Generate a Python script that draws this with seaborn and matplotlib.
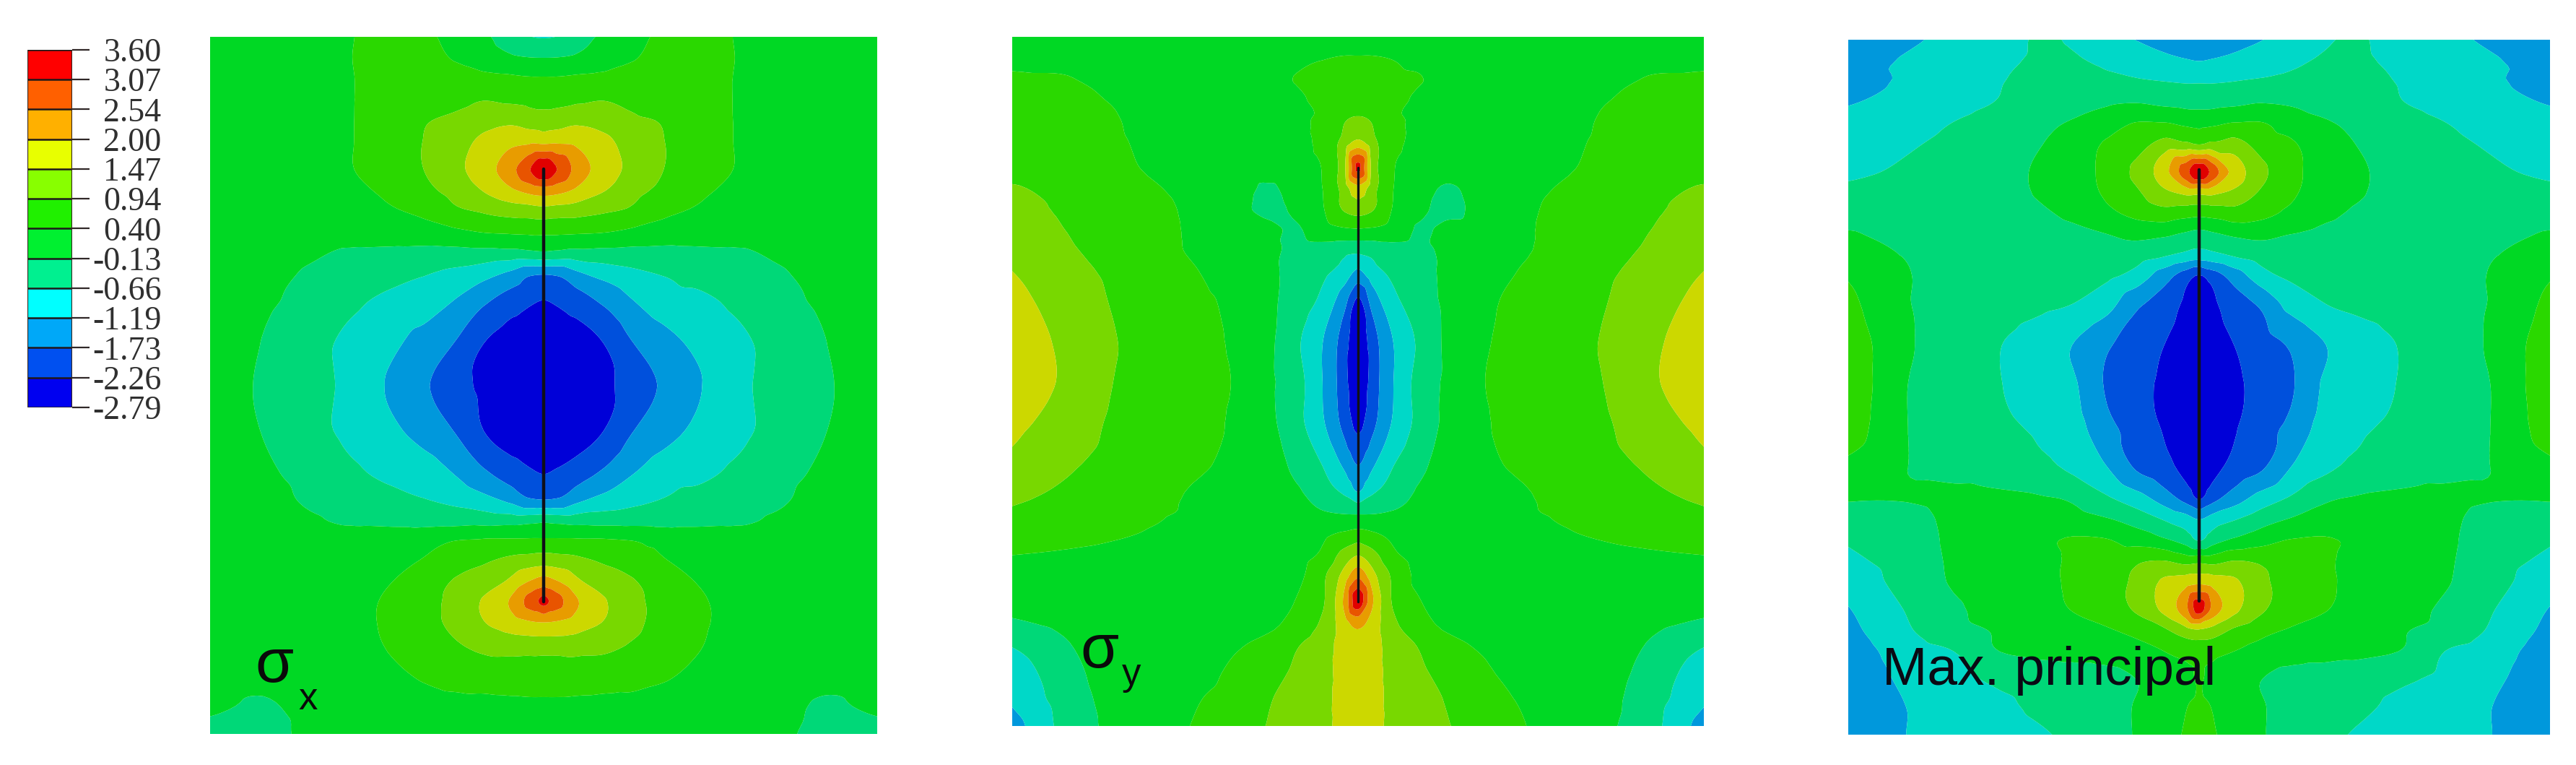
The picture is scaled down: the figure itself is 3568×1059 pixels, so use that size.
import numpy as np
import seaborn as sns
import matplotlib
matplotlib.use("Agg")
import matplotlib.pyplot as plt
import matplotlib.tri as mtri
from matplotlib.colors import ListedColormap, BoundaryNorm

sns.set_theme(style="white")
plt.rcParams["font.family"] = ["Liberation Sans", "DejaVu Sans"]

# contour levels as printed on the legend, bottom to top
levels = [-2.79, -2.26, -1.73, -1.19, -0.66, -0.13, 0.40, 0.94, 1.47, 2.00, 2.54, 3.07, 3.60]
level_labels = ["-2.79", "-2.26", "-1.73", "-1.19", "-0.66", "-0.13", "0.40", "0.94", "1.47", "2.00", "2.54", "3.07", "3.60"]
legend_colors = ["#0000f0", "#0050f0", "#00a8f8", "#00ffff", "#00f090", "#00f030",
                 "#20f000", "#88ff00", "#e8ff00", "#ffb000", "#ff6000", "#ff0000"]
panel_colors = ["#0000d8", "#0050dc", "#0098dc", "#00d8c8", "#00d878", "#00d824",
                "#2ad800", "#78d800", "#ccd800", "#e89c00", "#e85400", "#e00000"]

dist = [0, .02, .05, .09, .13, .18, .23, .29, .35, .42, .5]

# sigma x
sx_v = [0, .03, .06, .09, .12, .15, .19, .22, .25, .28, .31, .34, .38, .44, .50, .565, .625, .665, .695, .72,
        .75, .78, .81, .84, .88, .92, .96, 1]
sx = [
    [-.7, -.65, -.35, -.05, .2, .5, .55, .38, .2, .1, .1],
    [-.13, -.12, -.05, .1, .35, .55, .55, .39, .2, .1, .1],
    [.45, .45, .5, .55, .6, .6, .55, .38, .2, .1, .1],
    [.8, .8, .85, .92, .8, .65, .55, .38, .2, .1, .1],
    [1.15, 1.2, 1.35, 1.25, 1.05, .9, .6, .38, .2, .1, .1],
    [1.85, 1.9, 1.85, 1.6, 1.25, .95, .62, .38, .2, .1, .1],
    [3.5, 3.07, 2.35, 1.75, 1.35, .94, .62, .38, .2, .1, .1],
    [2.3, 2.2, 1.9, 1.5, 1.15, .8, .5, .3, .17, .1, .1],
    [1.25, 1.2, 1.15, 1.0, .85, .5, .35, .2, .12, .1, .1],
    [.5, .5, .47, .42, .3, .2, .15, .1, .08, .08, .1],
    [-.2, -.25, -.3, -.3, -.3, -.3, -.25, -.2, -.05, .1, .15],
    [-1.7, -1.65, -1.3, -1.0, -.8, -.63, -.48, -.35, -.2, .05, .15],
    [-2.28, -2.2, -2.0, -1.65, -1.25, -.9, -.8, -.55, -.3, -.05, .15],
    [-2.6, -2.55, -2.5, -2.26, -1.78, -1.4, -1.08, -.78, -.5, -.15, .15],
    [-2.75, -2.7, -2.55, -2.35, -2.1, -1.65, -1.25, -.78, -.5, -.2, .15],
    [-2.6, -2.55, -2.5, -2.26, -1.78, -1.4, -1.08, -.78, -.5, -.15, .15],
    [-2.28, -2.2, -2.0, -1.65, -1.25, -.9, -.8, -.55, -.3, -.05, .15],
    [-1.7, -1.65, -1.3, -1.0, -.8, -.63, -.48, -.35, -.2, .05, .15],
    [-.2, -.25, -.3, -.3, -.3, -.3, -.25, -.2, -.05, .1, .15],
    [.42, .42, .41, .4, .36, .22, .15, .12, .1, .1, .12],
    [1.2, 1.15, 1.05, .85, .65, .42, .25, .15, .1, .1, .1],
    [2.2, 2.0, 1.55, 1.2, 1.0, .62, .38, .2, .12, .1, .1],
    [3.2, 2.75, 2.05, 1.52, 1.12, .75, .47, .27, .12, .1, .1],
    [2.0, 1.95, 1.75, 1.45, 1.1, .75, .48, .27, .12, .1, .1],
    [1.05, 1.05, 1.05, 1.0, .85, .65, .42, .22, .12, .08, .1],
    [.65, .65, .65, .62, .6, .44, .28, .18, .1, -.02, .08],
    [.3, .3, .28, .25, .22, .18, .12, .08, .05, -.2, 0],
    [.1, .1, .1, .1, .1, .1, .1, .1, .05, -.4, -.4],
]

# sigma y
sy_v = [0, .03, .06, .09, .12, .15, .19, .22, .25, .28, .31, .34, .38, .44, .50, .56, .62, .66, .69, .72,
        .75, .78, .82, .85, .88, .92, .96, 1]
sy = [
    [.15, .15, .15, .15, .15, .15, .15, .15, .15, .15, .2],
    [.42, .42, .38, .25, .15, .15, .15, .15, .2, .25, .3],
    [.55, .55, .5, .42, .2, .15, .15, .15, .2, .42, .45],
    [.6, .6, .55, .3, .15, .15, .15, .2, .36, .5, .55],
    [1.0, .9, .5, .33, .15, .15, .15, .22, .42, .55, .6],
    [1.5, 1.1, .55, .3, .15, .15, .18, .28, .45, .6, .65],
    [3.2, 1.35, .45, .2, .12, .15, .22, .33, .5, .68, .75],
    [1.8, 1.2, .42, .1, -.2, .15, .28, .42, .6, .8, .98],
    [1.2, 1.0, .38, 0, -.3, .1, .3, .48, .65, .88, 1.05],
    [.35, .32, .2, -.2, .05, .15, .32, .5, .7, .93, 1.12],
    [-.55, -.5, -.35, -.25, 0, .2, .33, .52, .75, 1.0, 1.3],
    [-1.25, -.85, -.55, -.3, -.02, .2, .4, .6, .82, 1.12, 1.47],
    [-2.3, -1.5, -.8, -.35, -.02, .3, .48, .68, .88, 1.25, 1.6],
    [-2.65, -2.0, -1.2, -.55, -.02, .34, .52, .75, .95, 1.35, 1.75],
    [-2.75, -2.05, -1.22, -.45, -.03, .38, .55, .78, .92, 1.38, 1.8],
    [-2.4, -1.9, -1.15, -.48, 0, .35, .5, .72, .85, 1.25, 1.6],
    [-1.75, -1.3, -.7, -.25, .1, .32, .45, .62, .75, 1.02, 1.35],
    [-1.2, -.75, -.45, -.05, .15, .28, .35, .5, .6, .85, 1.08],
    [-.2, -.18, -.1, .1, .15, .2, .33, .45, .55, .72, .88],
    [.55, .45, .28, .18, .15, .15, .2, .35, .46, .58, .7],
    [1.4, 1.1, .5, .2, .15, .15, .15, .22, .28, .35, .42],
    [2.35, 1.65, .85, .25, .15, .15, .15, .15, .15, .15, .15],
    [3.4, 2.1, .9, .42, .15, .15, .15, .15, .12, .1, .05],
    [2.2, 1.8, 1.05, .6, .25, .15, .15, .15, .12, 0, -.2],
    [1.75, 1.7, 1.2, .88, .55, .32, .15, .15, .1, -.15, -.6],
    [1.75, 1.72, 1.25, 1.0, .78, .48, .25, .15, .1, -.3, -.95],
    [1.75, 1.7, 1.3, 1.1, .9, .58, .38, .18, .05, -.4, -1.1],
    [1.75, 1.7, 1.3, 1.1, .96, .7, .46, .2, 0, -.45, -1.4],
]

# max principal
sp_v = sy_v
sp = [
    [-1.6, -1.55, -1.4, -1.2, -.95, -.7, -.62, -.9, -1.05, -1.3, -1.6],
    [-1.2, -1.15, -1.05, -.9, -.75, -.62, -.6, -.8, -1.0, -1.15, -1.45],
    [-.7, -.7, -.66, -.6, -.55, -.5, -.55, -.7, -.95, -1.15, -1.3],
    [-.3, -.3, -.25, -.15, -.2, -.35, -.45, -.65, -.85, -1.05, -1.22],
    [.25, .3, .42, .42, .15, -.08, -.25, -.45, -.65, -.85, -1.0],
    [.9, 1.05, 1.15, .7, .48, .08, -.16, -.35, -.55, -.72, -.9],
    [3.5, 2.85, 1.8, 1.05, .58, .12, -.08, -.3, -.45, -.6, -.75],
    [1.6, 1.6, 1.35, .85, .5, .1, -.1, -.3, -.42, -.52, -.55],
    [.55, .6, .72, .55, .28, -.03, -.2, -.3, -.4, -.42, -.4],
    [-.3, -.2, -.05, 0, -.13, -.25, -.3, -.35, -.38, -.3, -.08],
    [-.9, -.8, -.6, -.42, -.38, -.38, -.4, -.4, -.35, -.15, .02],
    [-2.3, -2.0, -1.5, -.85, -.58, -.48, -.42, -.42, -.35, -.08, .35],
    [-2.6, -2.35, -1.95, -1.62, -1.0, -.66, -.55, -.45, -.35, -.08, .55],
    [-2.7, -2.5, -2.26, -1.95, -1.68, -1.2, -.88, -.62, -.3, -.05, .8],
    [-2.75, -2.55, -2.35, -2.1, -1.8, -1.1, -.85, -.62, -.38, -.1, .85],
    [-2.7, -2.5, -2.3, -1.9, -1.6, -.95, -.72, -.55, -.35, -.1, .7],
    [-2.6, -2.38, -2.05, -1.73, -1.15, -.72, -.5, -.32, -.25, -.12, .2],
    [-2.3, -1.9, -1.45, -.95, -.6, -.2, -.08, -.03, 0, -.1, -.08],
    [-1.2, -.95, -.7, -.35, -.1, .05, .1, .1, 0, -.35, -.45],
    [-.7, -.35, -.05, .2, .42, .45, .3, .15, -.02, -.45, -.62],
    [.8, .75, .95, .85, .6, .45, .28, .12, -.05, -.48, -.75],
    [1.85, 1.75, 1.55, 1.05, .72, .48, .25, .1, -.08, -.5, -.95],
    [3.3, 2.35, 1.6, 1.0, .68, .42, .2, .05, -.22, -.65, -1.22],
    [1.4, 1.25, .85, .55, .35, .18, .08, -.1, -.3, -.75, -1.35],
    [.6, .55, .4, .2, .1, .05, -.02, -.15, -.66, -.95, -1.5],
    [.42, .3, .05, -.13, -.3, -.4, -.45, -.58, -.8, -1.1, -1.55],
    [.45, .38, .1, -.1, -.3, -.45, -.58, -.78, -.95, -1.2, -1.6],
    [.6, .45, .15, -.1, -.3, -.55, -.72, -.85, -1.0, -1.2, -1.65],
]

# crack ends in panel fractions
sx_crack = [.19, .81]
sy_crack = [.19, .82]
sp_crack = [.187, .808]

W, H = 3568, 1059
fig = plt.figure(figsize=(W / 100, H / 100), dpi=100, facecolor="white")


def axes_px(x0, y0, x1, y1):
    return fig.add_axes([x0 / W, 1 - y1 / H, (x1 - x0) / W, (y1 - y0) / H])


def draw_field(box, v, rows, crack, lw):
    ax = axes_px(*box)
    half = np.array(rows)
    z = np.hstack([half[:, :0:-1], half])
    d = np.array(dist)
    x = np.concatenate([0.5 - d[:0:-1], 0.5 + d])
    xx, yy = np.meshgrid(x, v)
    # smooth band edges: matplotlib's own cubic refinement of the mesh
    tri = mtri.Triangulation(xx.ravel(), yy.ravel())
    interp = mtri.CubicTriInterpolator(tri, z.ravel(), kind="geom")
    tri2, z2 = mtri.UniformTriRefiner(tri).refine_field(z.ravel(), triinterpolator=interp, subdiv=3)
    ax.tricontourf(tri2, z2, levels=levels, colors=panel_colors, extend="both", antialiased=True)
    sns.lineplot(x=[0.5, 0.5], y=crack, color="#101018", lw=lw, ax=ax, estimator=None, sort=False)
    ax.set_xlim(0, 1)
    ax.set_ylim(1, 0)
    ax.axis("off")
    return ax


ax1 = draw_field((291, 51, 1215, 1016), sx_v, sx, sx_crack, 3.2)
ax2 = draw_field((1402, 51, 2360, 1005), sy_v, sy, sy_crack, 2.4)
ax3 = draw_field((2560, 55, 3532, 1017), sp_v, sp, sp_crack, 3.2)

ax1.text(0.068, 0.075, "σ", fontsize=62, color="#0a0a0a", ha="left", va="baseline", transform=ax1.transAxes)
ax1.text(0.132, 0.035, "x", fontsize=38, color="#0a0a0a", ha="left", va="baseline", transform=ax1.transAxes)
ax2.text(0.098, 0.085, "σ", fontsize=62, color="#0a0a0a", ha="left", va="baseline", transform=ax2.transAxes)
ax2.text(0.158, 0.06, "y", fontsize=38, color="#0a0a0a", ha="left", va="baseline", transform=ax2.transAxes)
ax3.text(0.048, 0.072, "Max. principal", fontsize=54, color="#0a0a14", ha="left", va="baseline", transform=ax3.transAxes)

# legend: one column heatmap, top band first
leg = axes_px(38, 69, 100, 564)
mids = np.array([(a + b) / 2 for a, b in zip(levels[:-1], levels[1:])])[::-1].reshape(-1, 1)
sns.heatmap(mids, ax=leg, cmap=ListedColormap(legend_colors), norm=BoundaryNorm(levels, 12), cbar=False,
            xticklabels=False, yticklabels=False, linewidths=0)
leg.hlines(range(13), 0, 1, color="#201818", lw=1.8)
leg.vlines([0, 1], 0, 12, color="#382820", lw=1.6)
leg.yaxis.tick_right()
leg.set_yticks(range(13))
leg.set_yticklabels(level_labels[::-1], family="Liberation Serif", fontsize=33, color="#303030", ha="right")
leg.tick_params(axis="y", length=17, width=1.6, color="#302828", pad=72, left=False, right=True)

fig.savefig("out.png", dpi=100, facecolor="white")
